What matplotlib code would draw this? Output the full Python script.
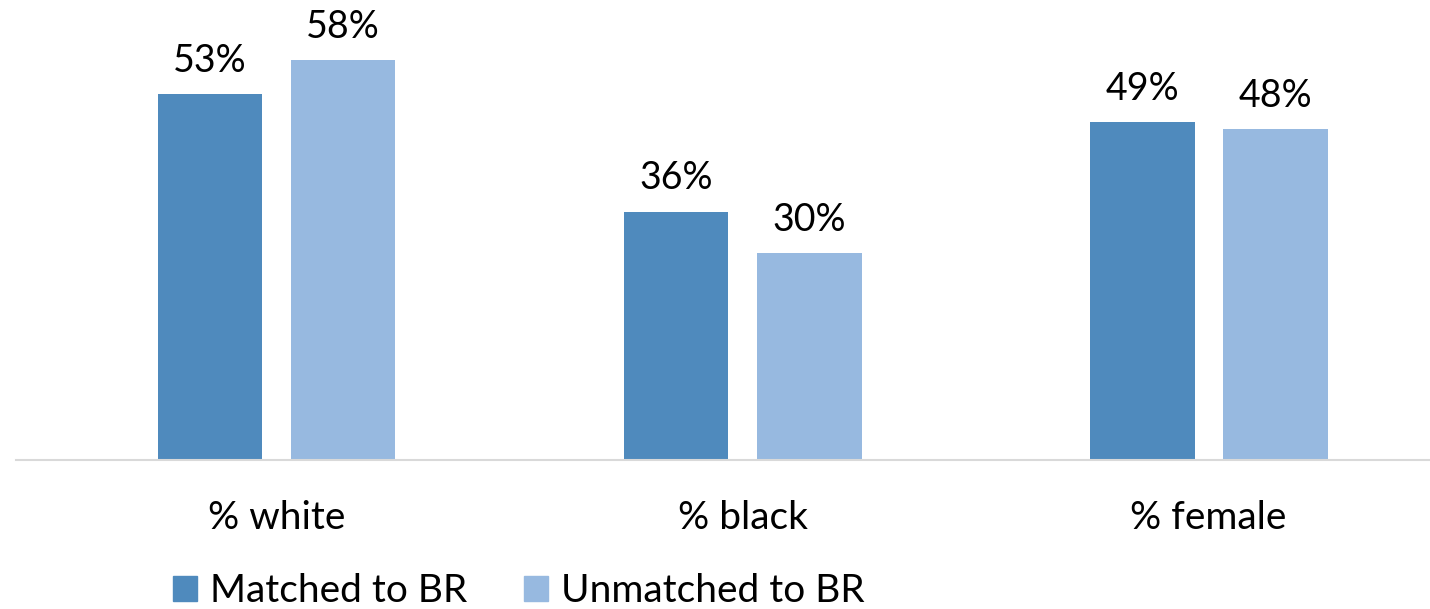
import matplotlib
matplotlib.use("Agg")
import matplotlib.pyplot as plt
import numpy as np
from matplotlib.patches import Patch

categories = ["% white", "% black", "% female"]
matched = [53, 36, 49]
unmatched = [58, 30, 48]
series_names = ["Matched to BR", "Unmatched to BR"]
colors = ["#4F8ABD", "#97B9E0"]

plt.rcParams['font.family'] = ['Lato', 'DejaVu Sans']

W, H = 1430, 609
fig = plt.figure(figsize=(W/100, H/100), dpi=100)
ax = fig.add_axes([16/W, (H-460)/H, (1430-16)/W, (460-46)/H])
x = np.arange(len(categories))
off = 0.1427
bw = 0.225
for vals, dx, c in [(matched, -off, colors[0]), (unmatched, off, colors[1])]:
    bars = ax.bar(x + dx, vals, width=bw, color=c)
    for b, v in zip(bars, vals):
        ax.annotate(f"{v}%", (b.get_x() + b.get_width()/2, v), xytext=(0, 11),
                    textcoords="offset points", ha="center", va="bottom", fontsize=27)
ax.set_ylim(0, 60)
ax.set_xlim(-0.559, 2.475)
for s in ["top", "right", "left"]:
    ax.spines[s].set_visible(False)
ax.spines["bottom"].set_color("#D9D9D9")
ax.spines["bottom"].set_linewidth(1.5)
ax.set_yticks([])
ax.set_xticks(x)
ax.set_xticklabels(categories, fontsize=28)
ax.tick_params(axis="x", length=0, pad=29)

handles = [Patch(color=c) for c in colors]
fig.legend(handles, series_names, loc="center left", bbox_to_anchor=(173/W, (H-591)/H),
           ncol=2, frameon=False, fontsize=28, handlelength=0.62, handleheight=0.62,
           handletextpad=0.33, columnspacing=1.45, borderpad=0, borderaxespad=0)
fig.savefig("out.png", dpi=100)
